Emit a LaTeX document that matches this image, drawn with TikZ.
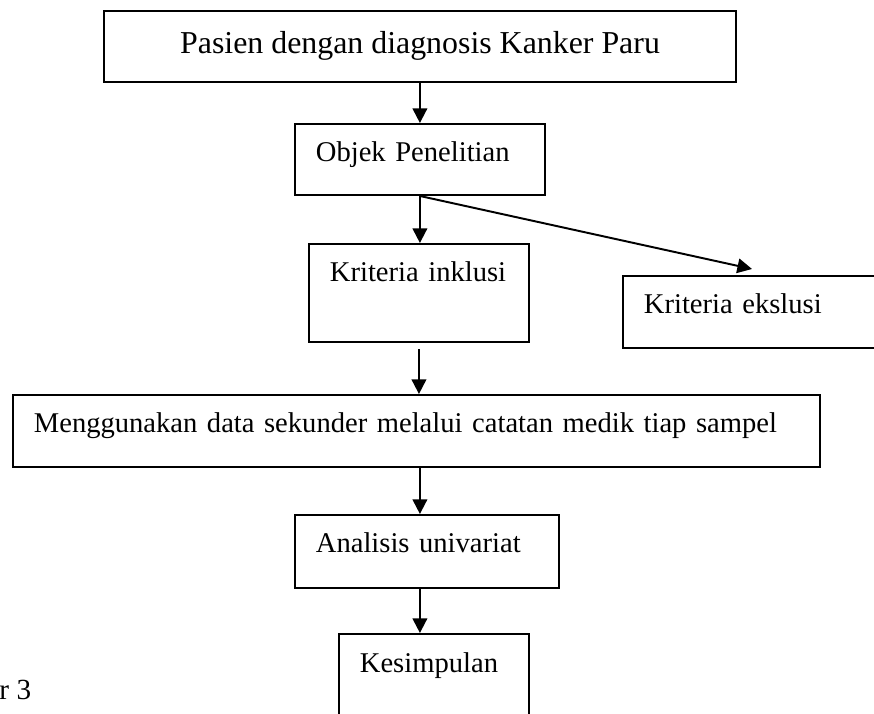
\documentclass[tikz,border=0pt]{standalone}
\usepackage{fontspec}
\setmainfont{Liberation Serif}
\usetikzlibrary{arrows.meta}
\tikzset{
	kotak/.style={draw, line width=0.8pt, anchor=north west, inner ysep=0pt, inner xsep=8.6pt, align=left, font=\fontsize{11.75}{14}\selectfont},
	panah/.style={-{Triangle[length=6pt,width=6pt]}, line width=0.8pt}
}
\begin{document}
\begin{tikzpicture}[x=0.411pt, y=-0.411pt]
	\clip (0,0) rectangle (874,714);
	\node[kotak, inner xsep=0pt, align=center, minimum width=259.8pt, text height=17.3pt, text depth=11.9pt, font=\fontsize{13.1}{15.6}\selectfont] (pasien) at (103,10) {Pasien dengan diagnosis Kanker Paru};
	\node[kotak, text width=85.5pt, text height=15.4pt, text depth=13.8pt] (objek) at (294,123) {Objek Penelitian};
	\node[kotak, text width=73.2pt, text height=15.5pt, text depth=24.8pt] (inklusi) at (308,243) {\mbox{Kriteria inklusi}};
	\node[kotak, text width=88pt, text height=15.6pt, text depth=14pt] (ekslusi) at (622,275) {Kriteria ekslusi};
	\node[kotak, text width=314.5pt, text height=15.5pt, text depth=14.1pt] (data) at (12,394) {Menggunakan data sekunder melalui catatan medik tiap sampel};
	\node[kotak, text width=91.3pt, text height=15.5pt, text depth=14.5pt] (analisis) at (294,514) {Analisis univariat};
	\node[kotak, text width=60.9pt, text height=15.9pt, text depth=28pt] (kesimpulan) at (338,633) {Kesimpulan};
	\node[anchor=base west, inner sep=0pt, font=\fontsize{12}{14.4}\selectfont] (gambar) at (-1,700) {r 3};
	\coordinate (ujung) at (752,269);
	\draw[panah] (objek.south |- pasien.south) -- (objek.north);
	\draw[panah] (objek.south) -- (objek.south |- inklusi.north);
	\draw[panah] (objek.south) -- (ujung);
	\draw[panah, shorten <=2.5pt] (inklusi.south) -- (inklusi.south |- data.north);
	\draw[panah] (data.south -| objek.south) -- (analisis.north -| objek.south);
	\draw[panah] (analisis.south -| objek.south) -- (kesimpulan.north -| objek.south);
\end{tikzpicture}
\end{document}
